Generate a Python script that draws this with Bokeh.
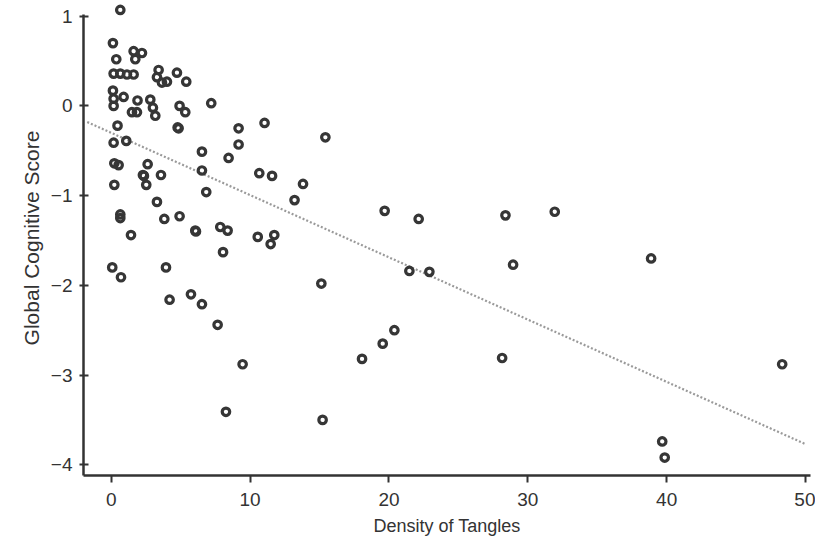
from bokeh.plotting import figure
from bokeh.models import Range1d, FixedTicker, BoxAnnotation
from bokeh.embed import file_html
from bokeh.resources import INLINE

# Density of tangles (x) and global cognitive score (y)
tangles = [0.65, 0.12, 1.61, 2.21, 0.36, 1.73, 0.17, 0.65, 1.13, 1.61,
           3.41, 3.29, 3.65, 4.01, 4.73, 5.40, 0.12, 0.17, 0.17, 0.89,
           1.89, 2.81, 3.00, 3.17, 1.49, 1.85, 4.92, 5.33, 4.78, 4.85,
           0.45, 7.20, 0.17, 1.08,
           6.53, 6.53, 0.22, 0.53, 2.62, 2.28, 2.35, 2.52, 3.58, 0.22,
           6.84, 3.29, 0.65, 0.65, 3.82, 4.92, 6.05, 6.10, 1.42, 0.07,
           0.70, 3.94, 4.20, 5.74, 6.53,
           9.17, 11.04, 15.42, 9.17, 8.45, 10.66, 11.58, 13.81, 13.20, 7.85,
           8.38, 10.55, 11.74, 11.48, 8.05,
           7.66, 9.46, 8.26,
           15.13, 15.22, 19.69, 22.14, 28.39, 31.94, 21.47, 22.91, 28.94, 20.39,
           19.55, 18.06, 28.15,
           38.88, 48.32, 39.68, 39.86]
scores = [1.07, 0.70, 0.61, 0.59, 0.52, 0.52, 0.36, 0.36, 0.35, 0.35,
          0.40, 0.32, 0.26, 0.27, 0.37, 0.27, 0.17, 0.08, 0.00, 0.10,
          0.06, 0.07, -0.02, -0.11, -0.07, -0.07, 0.00, -0.07, -0.24, -0.25,
          -0.22, 0.03, -0.41, -0.39,
          -0.51, -0.72, -0.64, -0.66, -0.65, -0.77, -0.78, -0.88, -0.77, -0.88,
          -0.96, -1.07, -1.21, -1.25, -1.26, -1.23, -1.39, -1.40, -1.44, -1.80,
          -1.91, -1.80, -2.16, -2.10, -2.21,
          -0.25, -0.19, -0.35, -0.43, -0.58, -0.75, -0.78, -0.87, -1.05, -1.35,
          -1.39, -1.46, -1.44, -1.54, -1.63,
          -2.44, -2.88, -3.41,
          -1.98, -3.50, -1.17, -1.26, -1.22, -1.18, -1.84, -1.85, -1.77, -2.50,
          -2.65, -2.82, -2.81,
          -1.70, -2.88, -3.74, -3.92]

# regression line end points
fit_x = [-1.73, 50.0]
fit_y = [-0.18, -3.77]

x_ticks = [0, 10, 20, 30, 40, 50]
y_ticks = [-4, -3, -2, -1, 0, 1]
y_tick_labels = {-4: "\u22124", -3: "\u22123", -2: "\u22122", -1: "\u22121", 0: "0", 1: "1"}

FONT = "Liberation Sans, sans-serif"
TXT = "#333333"

p = figure(width=815, height=538, output_backend="svg", toolbar_location=None,
           x_range=Range1d(-2.0, 50.36), y_range=Range1d(-4.12, 1.175))
p.min_border_left = 83
p.min_border_right = 5
p.min_border_top = 0
p.min_border_bottom = 0
p.outline_line_color = None
p.xgrid.visible = False
p.ygrid.visible = False
p.background_fill_color = "white"
p.border_fill_color = "white"

# faint cream tab at the left page edge
p.add_layout(BoxAnnotation(left=0, right=6, top=135, bottom=333,
                           left_units="canvas", right_units="canvas",
                           top_units="canvas", bottom_units="canvas",
                           fill_color="#fdf4e4", fill_alpha=1.0,
                           line_color="#f3dcb4", line_width=1, level="underlay"))

p.line(fit_x, fit_y, line_color="#9a9a9a", line_width=2.2, line_dash="2 2")
p.scatter(tangles, scores, marker="circle", size=7.5, fill_color=None,
          line_color="#363636", line_width=3.2)

xa = p.xaxis[0]
xa.ticker = FixedTicker(ticks=x_ticks)
xa.axis_label = "Density of Tangles"
ya = p.yaxis[0]
ya.ticker = FixedTicker(ticks=y_ticks)
ya.major_label_overrides = y_tick_labels
ya.axis_label = "Global Cognitive Score"
ya.bounds = (-4.12, 1.02)

for ax in (xa, ya):
    ax.axis_line_color = "#333333"
    ax.axis_line_width = 2.5
    ax.major_tick_line_color = "#333333"
    ax.major_tick_line_width = 2
    ax.minor_tick_line_color = None
    ax.major_label_text_font = FONT
    ax.major_label_text_font_size = "19px"
    ax.major_label_text_color = TXT
    ax.axis_label_text_font = FONT
    ax.axis_label_text_font_style = "normal"
    ax.axis_label_text_color = TXT

xa.axis_label_text_font_size = "18px"
ya.axis_label_text_font_size = "21px"

xa.major_tick_in = 0
xa.major_tick_out = 7
xa.major_label_standoff = 10
xa.axis_label_standoff = 7
ya.major_tick_in = 5
ya.major_tick_out = 4
ya.major_label_standoff = 7
ya.axis_label_standoff = 5

open("out.html", "w").write(file_html(p, INLINE))
